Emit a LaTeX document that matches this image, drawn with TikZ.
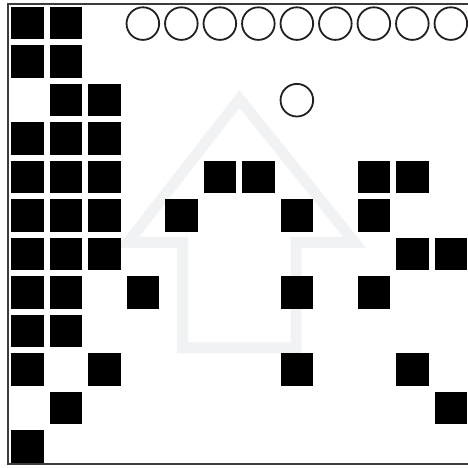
\documentclass[tikz,border=0pt]{standalone}
\usetikzlibrary{positioning}
\definecolor{ink}{HTML}{000000}
\definecolor{ring}{HTML}{231F20}
\definecolor{ghost}{HTML}{F1F2F4}
\definecolor{framegray}{HTML}{3C3C3C}
\tikzset{
  cell/.style={rectangle,fill=ink,draw=none,minimum size=32.7pt,inner sep=0pt},
  hole/.style={circle,draw=ring,line width=1.8pt,minimum size=32.6pt,inner sep=0pt},
  ghostarrow/.style={draw=ghost,line width=11pt,miter limit=10}
}
\begin{document}
\begin{tikzpicture}[x=1pt,y=-1pt]
  \useasboundingbox (0,0) rectangle (468,468);
  % faint arrow behind the grid
  \draw[ghostarrow] (239.5,99) -- (354.5,242.3) -- (296,242.3) -- (296,347.8)
    -- (182.5,347.8) -- (182.5,242.3) -- (128,242.3) -- cycle;
  % black cells, column/row
  \foreach \c/\r in {0/0,1/0, 0/1,1/1, 1/2,2/2, 0/3,1/3,2/3,
      0/4,1/4,2/4,5/4,6/4,9/4,10/4, 0/5,1/5,2/5,4/5,7/5,9/5,
      0/6,1/6,2/6,10/6,11/6, 0/7,1/7,3/7,7/7,9/7, 0/8,1/8,
      0/9,2/9,7/9,10/9, 1/10,11/10, 0/11}
    \node[cell] (sq-\c-\r) at ({27.35+38.5*\c},{23.05+38.5*\r}) {};
  % holes
  \foreach \c in {3,...,11}
    \node[hole] (ho-\c) at ({27.35+38.5*\c},23.6) {};
  \node[hole] (ho-lone) at ({27.35+38.5*7},100.2) {};
  % frame
  \draw[framegray,line width=2pt] (470,4) -- (8,4) -- (8,464) -- (470,464);
\end{tikzpicture}
\end{document}
